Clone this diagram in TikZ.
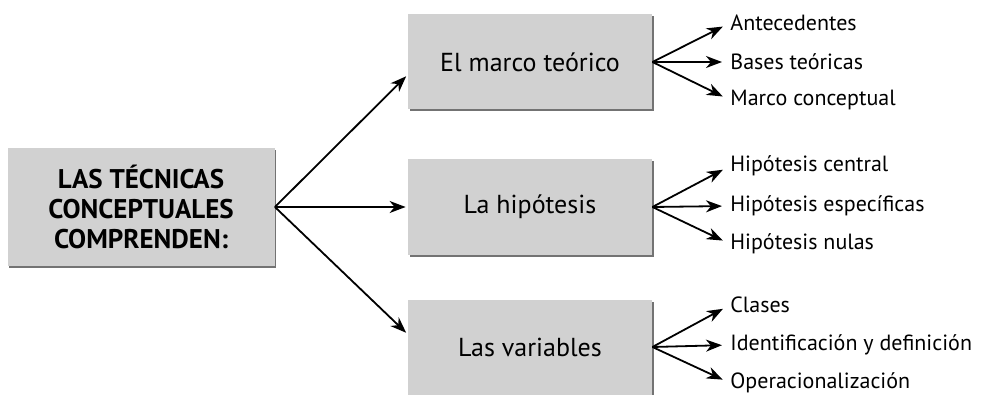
\documentclass[tikz,border=0pt]{standalone}
\usepackage{fontspec}
\setmainfont{PT Sans}
\usetikzlibrary{arrows.meta,shadows}
\begin{document}
\begin{tikzpicture}[x=0.5pt,y=-0.5pt,
  caja/.style={fill=black!18, minimum width=122pt, minimum height=47.5pt, inner sep=0pt,
    font=\fontsize{13}{15}\selectfont,
    drop shadow={shadow xshift=0.8pt, shadow yshift=-1pt, fill=black!55, opacity=1}},
  hoja/.style={anchor=west, inner sep=0pt, font=\fontsize{11}{13}\selectfont},
  flecha/.style={-{Stealth[length=8pt,width=6pt,inset=2.5pt]}, line width=0.9pt, shorten >=1pt}]
\useasboundingbox (0,0) rectangle (984,395);
\def\xc{530}
\def\xh{730}
\node[caja, minimum width=133.5pt, minimum height=59pt, align=center, font=\bfseries\fontsize{13.5}{15}\selectfont] (tecnicas) at (141,207) {LAS TÉCNICAS\\CONCEPTUALES\\COMPRENDEN:};
\node[caja] (marco) at (\xc,62) {El marco teórico};
\node[caja] (hipo) at (\xc,207) {La hipótesis};
\node[caja] (vari) at (\xc,347) {Las variables};

\node[hoja] (ante) at (\xh,23) {Antecedentes};
\node[hoja] (bases) at (\xh,62) {Bases teóricas};
\node[hoja] (mconc) at (\xh,100) {Marco conceptual};
\node[hoja] (hcent) at (\xh,166) {Hipótesis central};
\node[hoja] (hesp) at (\xh,206) {Hipótesis específicas};
\node[hoja] (hnul) at (\xh,244) {Hipótesis nulas};
\node[hoja] (clases) at (\xh,305) {Clases};
\node[hoja] (ident) at (\xh,345) {Identificación y definición};
\node[hoja] (oper) at (\xh,383) {Operacionalización};

% edges
\path[flecha] (tecnicas.east) edge (marco.186); % tecnicas to marco
\path[flecha] (tecnicas.east) edge (hipo.west); % tecnicas to hipotesis
\path[flecha] (tecnicas.east) edge (vari.174); % tecnicas to variables

\path[flecha, shorten >=4pt] (marco.east) edge (ante.west) edge (bases.west) edge (mconc.west);
\path[flecha, shorten >=4pt] (hipo.east) edge (hcent.west) edge (hesp.west) edge (hnul.west);
\path[flecha, shorten >=4pt] (vari.east) edge (clases.west) edge (ident.west) edge (oper.west);
\end{tikzpicture}
\end{document}
